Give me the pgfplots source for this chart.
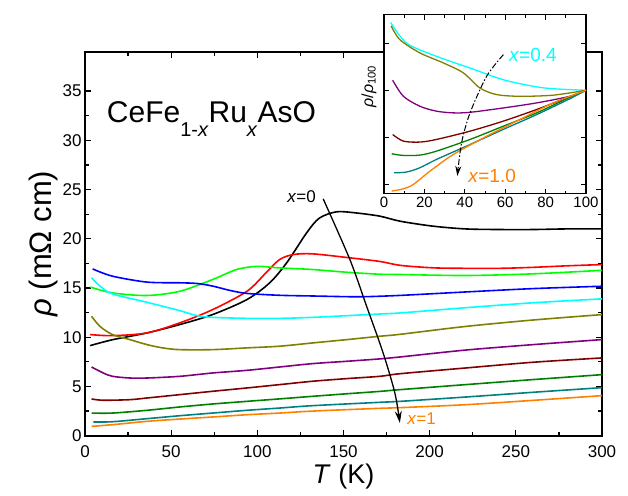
\documentclass[border=0pt]{standalone}
\usepackage{fontspec}
\setmainfont{Liberation Sans}
\usepackage{pgfplots}
\pgfplotsset{compat=1.18}
\usetikzlibrary{arrows.meta}

\definecolor{cRed}{RGB}{255,0,0}
\definecolor{cLime}{RGB}{0,255,0}
\definecolor{cBlue}{RGB}{0,0,255}
\definecolor{cCyan}{RGB}{0,255,255}
\definecolor{cOlive}{RGB}{128,128,0}
\definecolor{cPurple}{RGB}{128,0,128}
\definecolor{cWine}{RGB}{128,0,0}
\definecolor{cGreen}{RGB}{0,128,0}
\definecolor{cTeal}{RGB}{0,128,128}
\definecolor{cOrange}{RGB}{255,128,0}

\newcommand{\lowsub}[1]{\raisebox{-14pt}{\fontsize{20}{20}\selectfont #1}}

\begin{document}
\begin{tikzpicture}
\begin{axis}[
  name=main,
  scale only axis,
  width=517pt, height=384pt,
  xmin=0, xmax=300, ymin=0, ymax=39,
  xtick={0,50,...,300}, minor x tick num=1,
  ytick={0,5,...,35}, minor y tick num=1,
  tick align=inside,
  major tick length=6pt, minor tick length=4pt,
  axis line style={line width=1.6pt},
  every tick/.style={black, line width=1.2pt},
  /pgf/number format/assume math mode=true,
  ticklabel style={font=\fontsize{17}{17}\selectfont},
  xticklabel style={yshift=-6pt},
  xlabel={\textit{T} (K)},
  ylabel={\textit{ρ} (mΩ cm)},
  xlabel style={font=\fontsize{27}{27}\selectfont, yshift=0pt},
  ylabel style={font=\fontsize{31}{31}\selectfont, yshift=-2pt},
  every axis plot/.append style={line width=1.6pt, smooth, no markers},
]
% x = 0 ... 1 (main panel, mOhm cm)
\addplot[black] coordinates {(3,9.15) (16,9.75) (36,10.44) (55,11.29) (74,12.3) (94,13.83) (107,15.5) (117,17.55) (128.6,20.6) (136,22.1) (146,22.74) (157,22.63) (171,22.3) (183,21.78) (202,21.28) (221,21.0) (241,20.94) (260,20.94) (279,21.0) (300,21.0)};
\addplot[cRed] coordinates {(3,10.27) (16,10.16) (36,10.44) (55,11.46) (74,12.8) (94,14.67) (105,16.54) (113,17.9) (121,18.4) (132,18.47) (152,18.1) (171,17.7) (183,17.3) (202,17.05) (221,17.0) (241,17.0) (260,17.1) (279,17.25) (300,17.38)};
\addplot[cLime] coordinates {(3,15.1) (16,14.5) (36,14.24) (55,14.67) (74,15.86) (88,16.88) (100,17.2) (113,17.04) (132,16.88) (152,16.6) (171,16.4) (183,16.37) (221,16.27) (260,16.44) (300,16.8)};
\addplot[cBlue] coordinates {(4.4,16.94) (16,16.2) (36,15.6) (55,15.53) (65,15.46) (74,15.2) (84,14.76) (94,14.45) (113,14.26) (132,14.19) (152,14.12) (163,14.12) (183,14.25) (221,14.6) (260,14.94) (300,15.18)};
\addplot[cCyan] coordinates {(3.8,16.03) (8.7,15.2) (16,14.39) (36,13.55) (55,12.7) (65,12.19) (74,12.02) (94,11.92) (113,11.92) (132,12.02) (152,12.19) (171,12.36) (183,12.47) (221,13.0) (260,13.5) (300,13.9)};
\addplot[cOlive] coordinates {(3.8,12.13) (8.7,11.1) (16,10.27) (26,9.76) (36,9.25) (45,8.92) (55,8.74) (74,8.74) (94,8.92) (113,9.09) (132,9.42) (152,9.76) (171,10.1) (183,10.3) (221,11.1) (260,11.75) (300,12.3)};
\addplot[cPurple] coordinates {(3.8,6.98) (10.6,6.37) (16,6.03) (26,5.86) (36,5.86) (55,6.03) (74,6.37) (94,6.64) (113,6.98) (132,7.32) (152,7.56) (171,7.8) (183,8.0) (221,8.7) (260,9.25) (300,9.76)};
\addplot[cWine] coordinates {(3.8,3.73) (10.6,3.6) (26,3.66) (36,3.83) (55,4.17) (74,4.51) (94,4.85) (113,5.19) (132,5.53) (152,5.8) (171,6.03) (183,6.3) (221,6.88) (260,7.46) (300,7.9)};
\addplot[cGreen] coordinates {(3.8,2.3) (16,2.3) (36,2.58) (55,2.92) (74,3.22) (94,3.49) (113,3.74) (132,4.0) (152,4.26) (171,4.5) (183,4.68) (221,5.19) (260,5.7) (300,6.2)};
\addplot[cTeal] coordinates {(4.8,1.39) (16,1.42) (36,1.73) (55,2.03) (74,2.3) (94,2.58) (113,2.81) (132,3.05) (171,3.39) (183,3.49) (221,3.93) (260,4.41) (300,4.88)};
\addplot[cOrange] coordinates {(3.8,0.95) (16,1.12) (36,1.46) (55,1.69) (74,1.9) (94,2.13) (113,2.3) (132,2.5) (171,2.78) (183,2.85) (221,3.15) (260,3.59) (300,4.07)};

% arrow x=0 -> x=1
\addplot[black, line width=1.3pt, -{Stealth[length=12pt,width=7pt]}] coordinates {(138.2,24.06) (153.7,17.89) (163.4,13.15) (173,8.4) (179.8,4.34) (182.7,1.29)};
\node[anchor=east, font=\fontsize{17}{17}\selectfont] at (axis cs:136,24.3) {\textit{x}=0};
\node[anchor=west, text=cOrange, font=\fontsize{17}{17}\selectfont] at (axis cs:185,1.7) {\textit{x}=1};
\node[anchor=base west, inner sep=0pt, font=\fontsize{30}{30}\selectfont] at (axis cs:12.6,31.8) {CeFe\lowsub{1-\textit{x}}Ru\lowsub{\textit{x}}AsO};
\end{axis}

\begin{axis}[
  at={(299pt,242pt)}, anchor=south west,
  scale only axis,
  width=202pt, height=179pt,
  xmin=0, xmax=100, ymin=0.451, ymax=1.401,
  xtick={0,20,...,100}, minor x tick num=1,
  ytick={0.5,0.75,1,1.25}, yticklabels={},
  tick align=inside,
  major tick length=5pt, minor tick length=3pt,
  axis line style={line width=1.4pt},
  every tick/.style={black, line width=1pt},
  axis background/.style={fill=white},
  /pgf/number format/assume math mode=true,
  ticklabel style={font=\fontsize{15}{15}\selectfont},
  ylabel={\textit{ρ}/\textit{ρ}\textsubscript{100}},
  ylabel style={font=\fontsize{16}{16}\selectfont, at={(axis description cs:-0.02,0.6)}, anchor=south},
  every axis plot/.append style={line width=1.3pt, smooth, no markers},
]
% normalised to 100 K
\addplot[cCyan] coordinates {(3.3,1.36) (11.2,1.25) (26,1.18) (42.6,1.118) (59,1.056) (75.6,1.018) (85.5,1.007) (100,1)};
\addplot[cOlive] coordinates {(3.5,1.342) (7.9,1.268) (17.8,1.198) (29.4,1.145) (39.3,1.092) (47.5,1.012) (55.8,0.977) (67.3,0.968) (83.8,0.974) (100,1)};
\addplot[cPurple] coordinates {(4.3,1.053) (9.6,0.968) (17.8,0.915) (26,0.889) (34.3,0.88) (42.6,0.883) (59,0.906) (75.6,0.933) (92,0.968) (100,1)};
\addplot[cWine] coordinates {(4.3,0.765) (9.6,0.73) (17.8,0.725) (26,0.739) (42.6,0.783) (59,0.836) (75.6,0.898) (92,0.966) (100,1)};
\addplot[cGreen] coordinates {(3.8,0.663) (9.6,0.654) (17.8,0.656) (26,0.677) (42.6,0.739) (59,0.809) (75.6,0.88) (92,0.963) (100,1)};
\addplot[cTeal] coordinates {(5,0.562) (11.2,0.566) (17.8,0.589) (26,0.633) (42.6,0.712) (59,0.792) (75.6,0.871) (92,0.955) (100,1)};
\addplot[cOrange] coordinates {(3.8,0.465) (9.6,0.477) (14.5,0.5) (22.8,0.571) (34.3,0.659) (50.8,0.756) (67.3,0.845) (83.8,0.933) (100,1)};

\addplot[black, line width=1pt, dash pattern=on 6pt off 2pt on 1.5pt off 2pt, -{Stealth[length=10pt,width=6pt]}] coordinates {(59.1,1.189) (50.8,1.074) (42.6,0.88) (38.4,0.721) (36.3,0.545)};
\node[anchor=west, text=cCyan, font=\fontsize{19}{19}\selectfont] at (axis cs:60.2,1.189) {\textit{x}=0.4};
\node[anchor=west, text=cOrange, font=\fontsize{19}{19}\selectfont] at (axis cs:40,0.545) {\textit{x}=1.0};
\end{axis}

\pgfresetboundingbox
\path (-85pt,-60pt) rectangle (543pt,435.7pt);
\end{tikzpicture}
\end{document}
